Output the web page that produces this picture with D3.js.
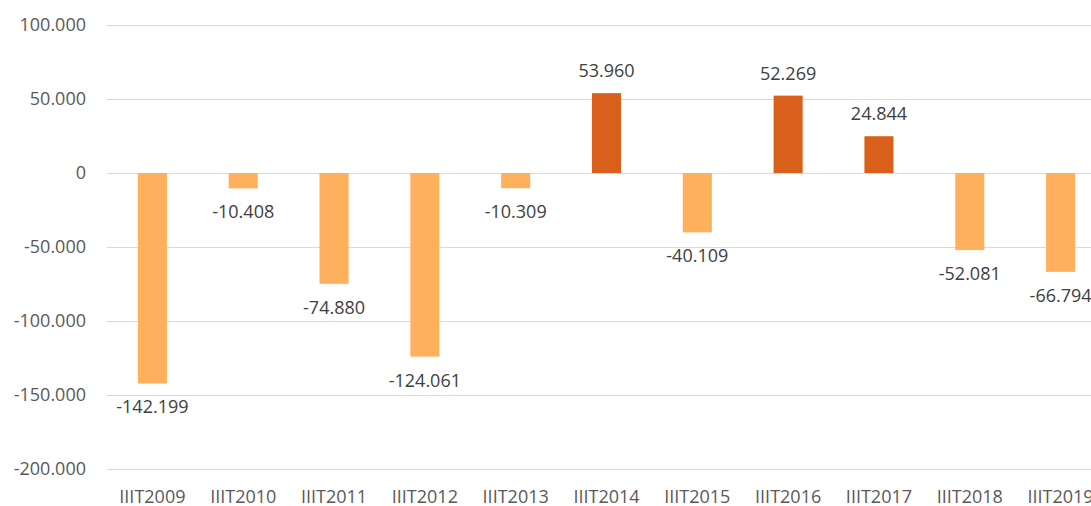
<!DOCTYPE html>
<html>
<head>
<meta charset="utf-8">
<script src="https://cdn.jsdelivr.net/npm/d3@7"></script>
<style>
  body { margin: 0; background: #fff; }
  svg { display: block; font-family: "Open Sans", sans-serif; }
</style>
</head>
<body>
<svg></svg>
<script>
var categories = ["IIIT2009", "IIIT2010", "IIIT2011", "IIIT2012", "IIIT2013", "IIIT2014",
                  "IIIT2015", "IIIT2016", "IIIT2017", "IIIT2018", "IIIT2019"];
var values = [-142199, -10408, -74880, -124061, -10309, 53960, -40109, 52269, 24844, -52081, -66794];
var yTicks = [-200000, -150000, -100000, -50000, 0, 50000, 100000];

var svgWidth = 1091, svgHeight = 506;
var plotLeft = 107, plotRight = 1106, plotTop = 25, plotBottom = 469;

// european style: dot as thousands separator, plain hyphen for minus
var fmt = d3.formatLocale({decimal: ",", thousands: ".", grouping: [3], currency: ["", ""], minus: "-"}).format(",.0f");

var svg = d3.select("svg")
            .attr("width", svgWidth)
            .attr("height", svgHeight);

var x = d3.scaleBand()
          .domain(categories)
          .range([plotLeft, plotRight])
          .padding(0);

var y = d3.scaleLinear()
          .domain([-200000, 100000])
          .range([plotBottom, plotTop]);

var barWidth = x.bandwidth() * 0.32;

// gridlines
svg.append("g")
   .selectAll("line")
   .data(yTicks)
   .enter()
   .append("line")
   .attr("x1", plotLeft)
   .attr("x2", plotRight)
   .attr("y1", function(d) { return Math.round(y(d)) + 0.5; })
   .attr("y2", function(d) { return Math.round(y(d)) + 0.5; })
   .attr("stroke", "#d9d9d9")
   .attr("stroke-width", 1);

// y axis labels
svg.append("g")
   .selectAll("text")
   .data(yTicks)
   .enter()
   .append("text")
   .attr("x", 86)
   .attr("y", function(d) { return y(d); })
   .attr("dy", "0.35em")
   .attr("text-anchor", "end")
   .attr("font-size", 18)
   .attr("fill", "#595959")
   .text(function(d) { return fmt(d); });

// bars
svg.append("g")
   .selectAll("rect")
   .data(values)
   .enter()
   .append("rect")
   .attr("x", function(d, i) { return x(categories[i]) + (x.bandwidth() - barWidth) / 2; })
   .attr("y", function(d) { return Math.min(y(d), y(0)); })
   .attr("width", barWidth)
   .attr("height", function(d) { return Math.abs(y(d) - y(0)); })
   .attr("fill", function(d) { return d >= 0 ? "#d9601a" : "#ffb05c"; });

// value labels
svg.append("g")
   .selectAll("text")
   .data(values)
   .enter()
   .append("text")
   .attr("x", function(d, i) { return x(categories[i]) + x.bandwidth() / 2; })
   .attr("y", function(d) { return d >= 0 ? y(d) - 16 : y(d) + 30; })
   .attr("text-anchor", "middle")
   .attr("font-size", 18)
   .attr("fill", "#404040")
   .text(function(d) { return fmt(d); });

// x axis labels
svg.append("g")
   .selectAll("text")
   .data(categories)
   .enter()
   .append("text")
   .attr("x", function(d) { return x(d) + x.bandwidth() / 2; })
   .attr("y", 503)
   .attr("text-anchor", "middle")
   .attr("font-size", 18)
   .attr("fill", "#595959")
   .text(function(d) { return d; });
</script>
</body>
</html>
